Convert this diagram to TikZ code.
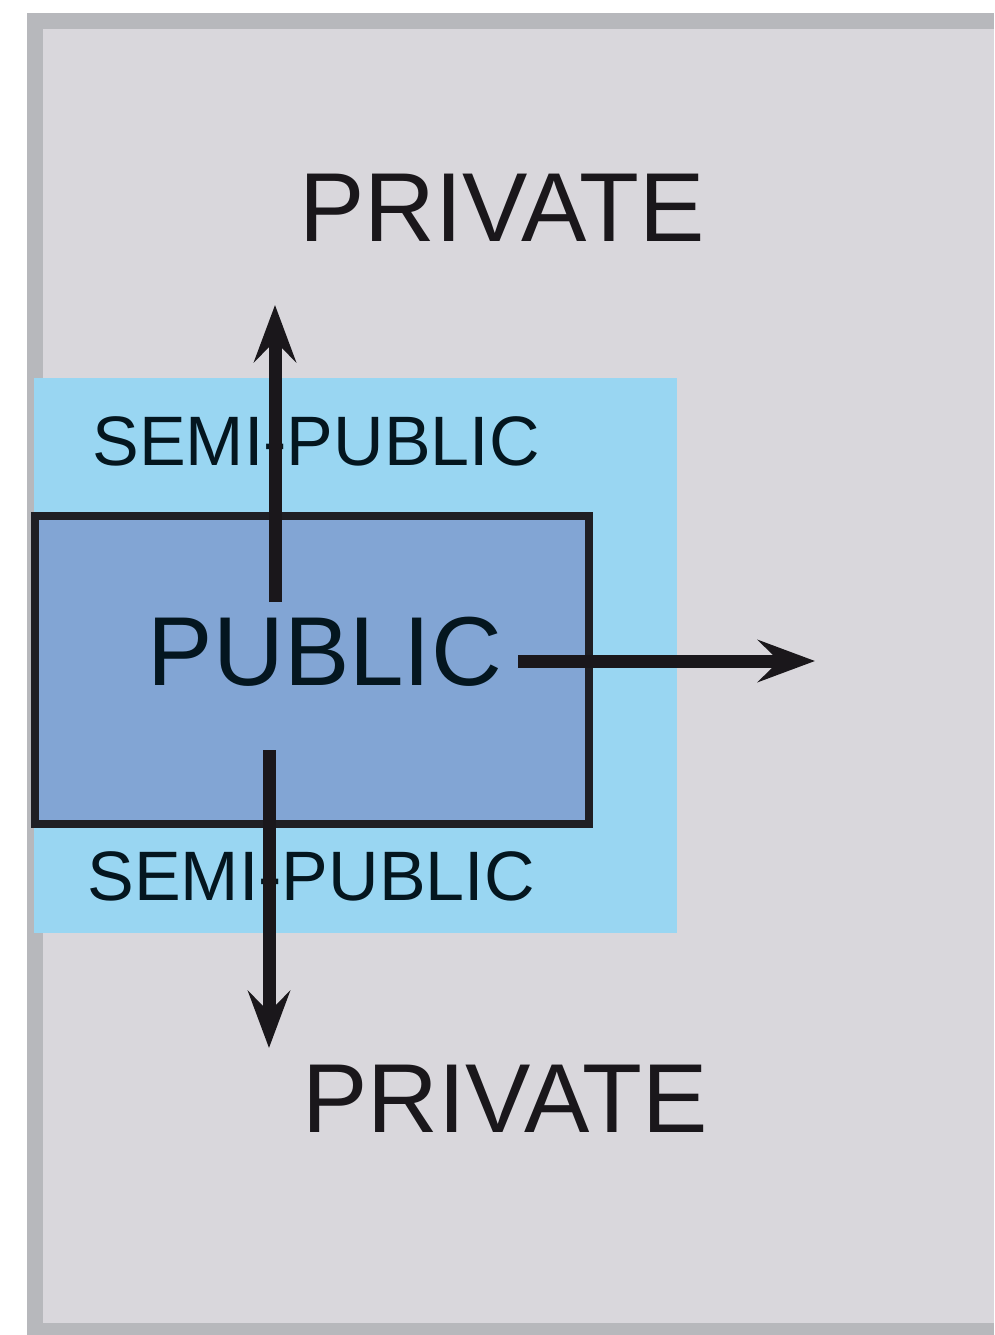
\documentclass[tikz,border=0pt]{standalone}
\usepackage{fontspec}
\setmainfont{Liberation Sans}
\usetikzlibrary{arrows.meta}
\definecolor{framegrey}{HTML}{B7B8BC}
\definecolor{innergrey}{HTML}{D9D7DC}
\definecolor{semiblue}{HTML}{99D6F2}
\definecolor{pubblue}{HTML}{82A5D4}
\definecolor{ink}{HTML}{1A171B}
\definecolor{darkink}{HTML}{04161F}
\definecolor{boxline}{HTML}{1F1F24}
\tikzset{
  bigtext/.style={font=\fontsize{98}{98}\selectfont, text=ink, inner sep=0pt},
  midtext/.style={font=\fontsize{70}{70}\selectfont, text=darkink, inner sep=0pt},
  flowarrow/.style={draw=ink, line width=13pt, -{Stealth[length=57pt, width=42pt, inset=21pt]}},
}
\begin{document}
\begin{tikzpicture}[x=1pt, y=-1pt]
\useasboundingbox (0,0) rectangle (994,1335);
\fill[white] (0,0) rectangle (994,1335);
% frame
\fill[framegrey] (27,13) rectangle (994,1335);
\fill[innergrey] (43,29) rectangle (994,1323);
% semi-public zone
\fill[semiblue] (34,378) rectangle (677,933);
% public box
\draw[boxline, line width=8pt, fill=pubblue] (35,516) rectangle (589,824);
% texts
\node[bigtext] (privtop) at (502,208) {PRIVATE};
\node[bigtext] (privbot) at (505,1099) {PRIVATE};
\node[midtext] (semitop) at (316,441) {SEMI-PUBLIC};
\node[midtext] (semibot) at (311,876) {SEMI-PUBLIC};
\node[bigtext, text=darkink] (pub) at (325,652) {PUBLIC};
% arrows
\coordinate (upstart) at (275,602);
\coordinate (uptip) at (275,305);
\coordinate (rstart) at (518,661);
\coordinate (rtip) at (815,661);
\coordinate (dstart) at (269,750);
\coordinate (dtip) at (269,1048);
\draw[flowarrow] (upstart) -- (uptip);
\draw[flowarrow] (rstart) -- (rtip);
\draw[flowarrow] (dstart) -- (dtip);
\end{tikzpicture}
\end{document}
